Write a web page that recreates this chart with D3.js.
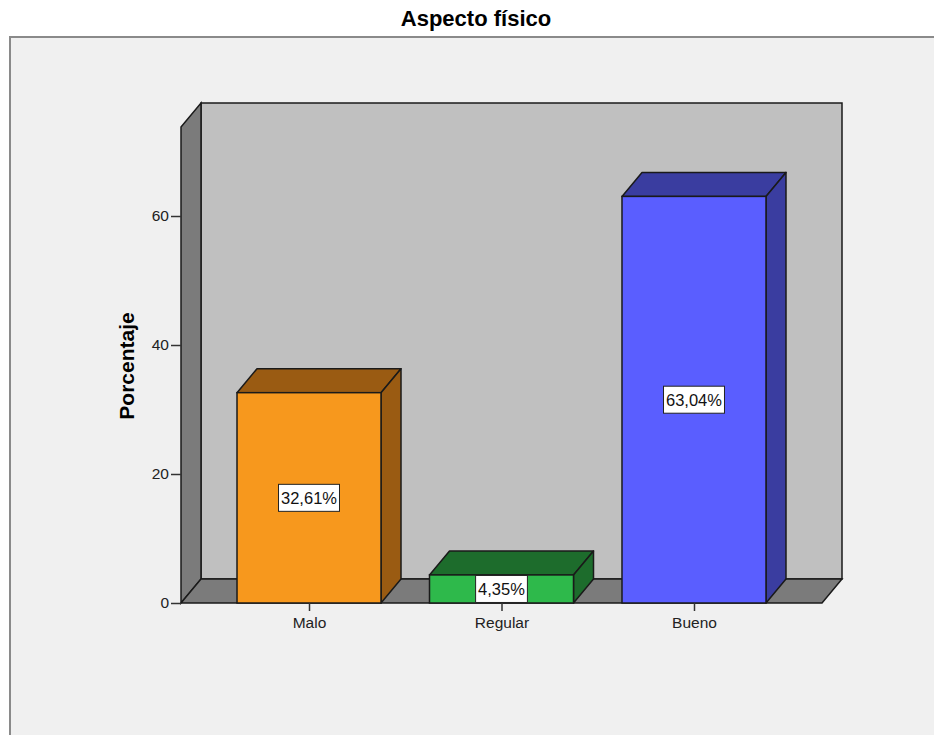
<!DOCTYPE html>
<html>
<head>
<meta charset="utf-8">
<script src="https://cdn.jsdelivr.net/npm/d3@7"></script>
<style>
  html, body { margin: 0; padding: 0; background: #ffffff; }
  svg { display: block; font-family: "Liberation Sans", Arial, sans-serif; }
</style>
</head>
<body>
<svg id="chart" width="934" height="735"></svg>
<script>
// Chart data
const categories = ["Malo", "Regular", "Bueno"];
const percentages = [32.61, 4.35, 63.04];
const valueLabels = ["32,61%", "4,35%", "63,04%"];
const yTicks = [0, 20, 40, 60];
const frontColors = ["#f7981d", "#2eb94b", "#5a5eff"];
const shadeColors = ["#9a5b12", "#1d6c2c", "#3a3da0"];

const svg = d3.select("#chart");

// Frame and plot geometry
const plotLeft = 181, plotRight = 822, plotBottom = 603;
const depthX = 20, depthY = -24;
const yMax = 73.8;
const barWidth = 144;

const y = d3.scaleLinear().domain([0, yMax]).range([plotBottom, 127]);
const x = d3.scalePoint().domain(categories).range([plotLeft, plotRight]).padding(0.665);

// Outer panel
svg.append("rect")
  .attr("x", 10).attr("y", 37).attr("width", 940).attr("height", 720)
  .attr("fill", "#f0f0f0").attr("stroke", "#8a8a8a").attr("stroke-width", 2);

// Title
svg.append("text")
  .attr("x", 476).attr("y", 26)
  .attr("text-anchor", "middle")
  .attr("font-size", 22).attr("font-weight", "bold")
  .attr("fill", "#000")
  .text("Aspecto físico");

const plotTop = y(yMax);
const stroke = "#1a1a1a";

// Back wall
svg.append("polygon")
  .attr("points", [[plotLeft + depthX, plotTop + depthY], [plotRight + depthX, plotTop + depthY],
                   [plotRight + depthX, plotBottom + depthY], [plotLeft + depthX, plotBottom + depthY]].join(" "))
  .attr("fill", "#c0c0c0").attr("stroke", stroke).attr("stroke-width", 1.5);

// Left side wall
svg.append("polygon")
  .attr("points", [[plotLeft, plotTop], [plotLeft + depthX, plotTop + depthY],
                   [plotLeft + depthX, plotBottom + depthY], [plotLeft, plotBottom]].join(" "))
  .attr("fill", "#7b7b7b").attr("stroke", stroke).attr("stroke-width", 1.5);

// Floor
svg.append("polygon")
  .attr("points", [[plotLeft, plotBottom], [plotRight, plotBottom],
                   [plotRight + depthX, plotBottom + depthY], [plotLeft + depthX, plotBottom + depthY]].join(" "))
  .attr("fill", "#7b7b7b").attr("stroke", stroke).attr("stroke-width", 1.5);

// 3D bars
const bars = svg.append("g").selectAll("g")
  .data(categories.map((c, i) => ({ c, v: percentages[i], i })))
  .join("g");

bars.append("polygon") // top face
  .attr("points", d => {
    const x0 = x(d.c) - barWidth / 2, x1 = x(d.c) + barWidth / 2, yt = y(d.v);
    return [[x0, yt], [x0 + depthX, yt + depthY], [x1 + depthX, yt + depthY], [x1, yt]].join(" ");
  })
  .attr("fill", d => shadeColors[d.i]).attr("stroke", stroke).attr("stroke-width", 1.5)
  .attr("stroke-linejoin", "round");

bars.append("polygon") // side face
  .attr("points", d => {
    const x1 = x(d.c) + barWidth / 2, yt = y(d.v);
    return [[x1, yt], [x1 + depthX, yt + depthY], [x1 + depthX, plotBottom + depthY], [x1, plotBottom]].join(" ");
  })
  .attr("fill", d => shadeColors[d.i]).attr("stroke", stroke).attr("stroke-width", 1.5)
  .attr("stroke-linejoin", "round");

bars.append("rect") // front face
  .attr("x", d => x(d.c) - barWidth / 2)
  .attr("y", d => y(d.v))
  .attr("width", barWidth)
  .attr("height", d => plotBottom - y(d.v))
  .attr("fill", d => frontColors[d.i]).attr("stroke", stroke).attr("stroke-width", 1.5);

// Value labels
bars.each(function(d) {
  const g = d3.select(this);
  const cy = (y(d.v) + plotBottom) / 2;
  const t = g.append("text")
    .attr("x", x(d.c)).attr("y", cy + 6)
    .attr("text-anchor", "middle")
    .attr("font-size", 16.5).attr("fill", "#111")
    .text(valueLabels[d.i]);
  const w = t.node().getComputedTextLength() + 5;
  g.insert("rect", "text")
    .attr("x", x(d.c) - w / 2).attr("y", cy - 13.5)
    .attr("width", w).attr("height", 27)
    .attr("fill", "#fff").attr("stroke", "#222").attr("stroke-width", 1);
});

// Y axis
const yAxis = svg.append("g")
  .attr("transform", `translate(${plotLeft},0)`)
  .call(d3.axisLeft(y).tickValues(yTicks).tickSize(10).tickPadding(2).tickFormat(d3.format("d")));
yAxis.select(".domain").remove();
yAxis.selectAll(".tick line").attr("stroke", "#333").attr("stroke-width", 1.5);
yAxis.selectAll(".tick text").attr("font-size", 15.5).attr("fill", "#222")
  .attr("font-family", "Liberation Sans, Arial, sans-serif");

// X axis
const xAxis = svg.append("g")
  .attr("transform", `translate(0,${plotBottom})`)
  .call(d3.axisBottom(x).tickSize(8).tickPadding(6));
xAxis.select(".domain").remove();
xAxis.selectAll(".tick line").attr("stroke", "#333").attr("stroke-width", 1.5);
xAxis.selectAll(".tick text").attr("font-size", 15.5).attr("fill", "#222")
  .attr("font-family", "Liberation Sans, Arial, sans-serif");

// Y axis title
svg.append("text")
  .attr("transform", "translate(134,366) rotate(-90)")
  .attr("text-anchor", "middle")
  .attr("font-size", 21).attr("font-weight", "bold").attr("fill", "#000")
  .text("Porcentaje");
</script>
</body>
</html>
